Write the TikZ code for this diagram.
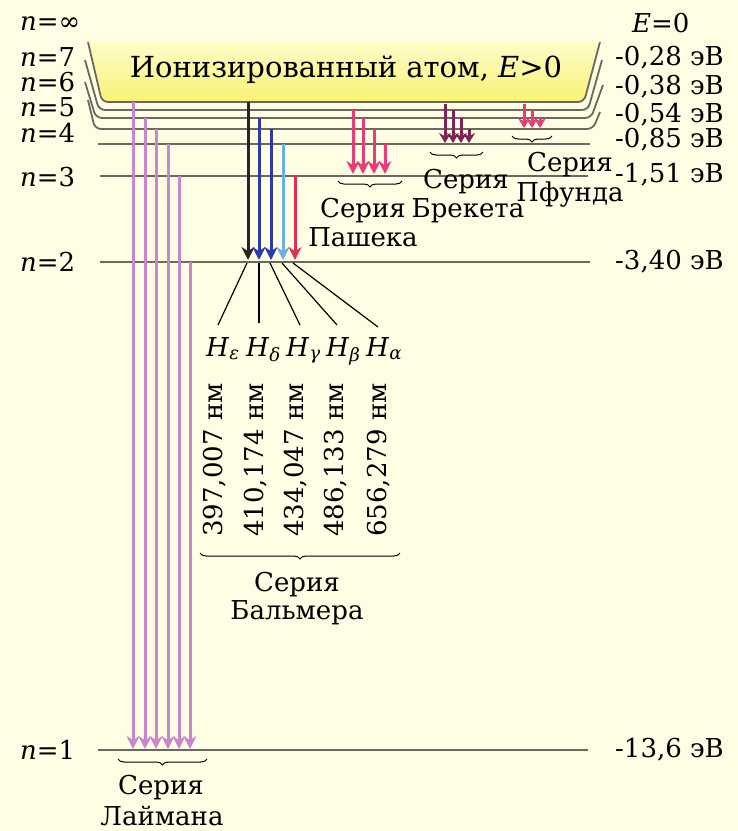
\documentclass[tikz,border=0pt]{standalone}
\usepackage{fontspec}
\setmainfont{DejaVu Serif}
\usetikzlibrary{arrows.meta,decorations.pathreplacing}

\definecolor{fon}{RGB}{255,254,228}
\definecolor{uroven}{RGB}{105,105,95}
\definecolor{lajman}{RGB}{200,135,205}
\definecolor{sinij}{RGB}{40,60,170}
\definecolor{golub}{RGB}{110,175,225}
\definecolor{krasn}{RGB}{220,50,90}
\definecolor{pashen}{RGB}{232,60,120}
\definecolor{breket}{RGB}{125,35,85}
\definecolor{zheltyj}{RGB}{247,243,115}
\definecolor{svzheltyj}{RGB}{254,252,200}

\begin{document}
\begin{tikzpicture}[x=1pt, y=-1pt,
    lvl/.style={uroven, line width=1.8pt, rounded corners=6pt},
    txt/.style={font=\fontsize{26}{28}\selectfont, inner sep=0pt},
    perehod/.style={line width=3pt, -{Stealth[length=13pt,width=13pt]}},
    malyj/.style={line width=3pt, -{Stealth[length=10pt,width=12pt]}},
    skobka/.style={decorate, decoration={brace,mirror,amplitude=6pt}, line width=1pt},
    veer/.style={line width=1.2pt}]

    % Фон
    \fill[fon] (0,0) rectangle (738,831);
    \useasboundingbox (0,0) rectangle (738,831);

    % Ионизированный атом
    \shade[top color=svzheltyj, bottom color=zheltyj, rounded corners=6pt]
        (88,42) -- (102,102) -- (584,102) -- (600,42) -- cycle;
    \node[txt, font=\fontsize{29}{31}\selectfont] (ion) at (346,70) {Ионизированный атом, \textit{E}>0};

    % Уровни
    \draw[lvl] (88,42) -- (102,102) -- (584,102) -- (600,42);
    \draw[lvl] (85,60) -- (99,110) -- (588,110) -- (602,60);
    \draw[lvl] (85,82) -- (96,118) -- (591,118) -- (603,85);
    \draw[lvl] (88,100) -- (95,129) -- (593,129) -- (600,112);
    \draw[lvl] (98,144) -- (590,144);
    \draw[lvl] (100,176) -- (588,176);
    \draw[lvl] (100,262) -- (590,262);
    \draw[lvl] (98,750) -- (588,750);

    % Номера уровней
    \node[txt, anchor=west] (nInf) at (20,24) {\textit{n}=∞};
    \node[txt, anchor=west] (n7) at (20,57) {\textit{n}=7};
    \node[txt, anchor=west] (n6) at (20,82) {\textit{n}=6};
    \node[txt, anchor=west] (n5) at (20,107) {\textit{n}=5};
    \node[txt, anchor=west] (n4) at (20,133) {\textit{n}=4};
    \node[txt, anchor=west] (n3) at (20,177) {\textit{n}=3};
    \node[txt, anchor=west] (n2) at (20,262) {\textit{n}=2};
    \node[txt, anchor=west] (n1) at (20,750) {\textit{n}=1};

    % Энергии
    \node[txt, anchor=west] (eInf) at (632,23) {\textit{E}=0};
    \node[txt, anchor=west] (e7) at (615,58) {-0,28 эВ};
    \node[txt, anchor=west] (e6) at (615,87) {-0,38 эВ};
    \node[txt, anchor=west] (e5) at (615,115) {-0,54 эВ};
    \node[txt, anchor=west] (e4) at (615,140) {-0,85 эВ};
    \node[txt, anchor=west] (e3) at (615,175) {-1,51 эВ};
    \node[txt, anchor=west] (e2) at (615,262) {-3,40 эВ};
    \node[txt, anchor=west] (e1) at (615,750) {-13,6 эВ};

    % Серия Лаймана
    \draw[perehod, lajman] (133,102) -- (133,749);
    \draw[perehod, lajman] (145,118) -- (145,749);
    \draw[perehod, lajman] (156,129) -- (156,749);
    \draw[perehod, lajman] (168,144) -- (168,749);
    \draw[perehod, lajman] (179,176) -- (179,749);
    \draw[perehod, lajman] (190,262) -- (190,749);
    \draw[skobka] (118,759) -- (207,759);
    \node[txt] (lajmanTxt1) at (161,788) {Серия};
    \node[txt] (lajmanTxt2) at (162,816) {Лаймана};

    % Серия Бальмера
    \draw[perehod, black!85] (248,102) -- (248,260);
    \draw[perehod, sinij] (259,118) -- (259,260);
    \draw[perehod, sinij] (271,129) -- (271,260);
    \draw[perehod, golub] (283,144) -- (283,260);
    \draw[perehod, krasn] (295,176) -- (295,260);

    % Линии к подписям
    \draw[veer] (247,263) -- (218,325);
    \draw[veer] (259,263) -- (259,323);
    \draw[veer] (270,263) -- (300,325);
    \draw[veer] (282,263) -- (337,325);
    \draw[veer] (293,263) -- (378,327);

    \node[txt, anchor=base west] (hEps) at (206,356) {\textit{H}\textsubscript{\textit{ε}}};
    \node[txt, anchor=base west] (hDel) at (246,356) {\textit{H}\textsubscript{\textit{δ}}};
    \node[txt, anchor=base west] (hGam) at (286,356) {\textit{H}\textsubscript{\textit{γ}}};
    \node[txt, anchor=base west] (hBet) at (326,356) {\textit{H}\textsubscript{\textit{β}}};
    \node[txt, anchor=base west] (hAlf) at (366,356) {\textit{H}\textsubscript{\textit{α}}};

    \node[txt, rotate=90] (lEps) at (215,460) {397,007 нм};
    \node[txt, rotate=90] (lDel) at (256,460) {410,174 нм};
    \node[txt, rotate=90] (lGam) at (296,460) {434,047 нм};
    \node[txt, rotate=90] (lBet) at (336,460) {486,133 нм};
    \node[txt, rotate=90] (lAlf) at (379,460) {656,279 нм};

    \draw[skobka] (200,553) -- (400,553);
    \node[txt] (balmerTxt1) at (297,585) {Серия};
    \node[txt] (balmerTxt2) at (297,613) {Бальмера};

    % Серия Пашена
    \draw[perehod, pashen] (353,110) -- (353,174);
    \draw[perehod, pashen] (363,118) -- (363,174);
    \draw[perehod, pashen] (374,129) -- (374,174);
    \draw[perehod, pashen] (385,144) -- (385,174);
    \draw[skobka] (338,181) -- (402,181);
    \node[txt] (pashenTxt1) at (363,211) {Серия};
    \node[txt] (pashenTxt2) at (363,237) {Пашека};

    % Серия Брекета
    \draw[malyj, breket] (445,104) -- (445,143);
    \draw[malyj, breket] (453,110) -- (453,143);
    \draw[malyj, breket] (461,118) -- (461,143);
    \draw[malyj, breket] (469,129) -- (469,143);
    \draw[skobka] (430,152) -- (483,152);
    \node[txt] (breketTxt1) at (466,182) {Серия};
    \node[txt] (breketTxt2) at (468,211) {Брекета};

    % Серия Пфунда
    \draw[malyj, pashen] (524,104) -- (524,128);
    \draw[malyj, pashen] (532,110) -- (532,128);
    \draw[malyj, pashen] (540,118) -- (540,128);
    \draw[skobka] (512,136) -- (552,136);
    \node[txt] (pfundTxt1) at (570,165) {Серия};
    \node[txt] (pfundTxt2) at (570,195) {Пфунда};
\end{tikzpicture}
\end{document}
